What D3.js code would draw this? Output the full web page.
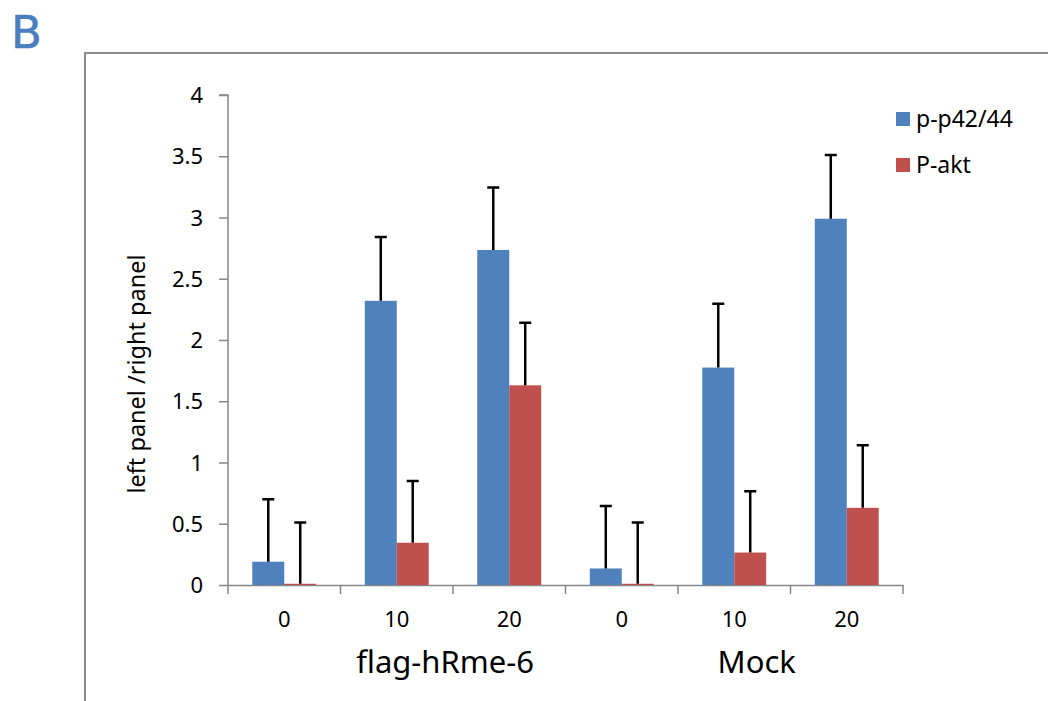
<!DOCTYPE html>
<html>
<head>
<meta charset="utf-8">
<script src="https://cdn.jsdelivr.net/npm/d3@7"></script>
<style>
  body { margin: 0; background: #fff; }
  text { font-family: "Noto Sans", "Open Sans", sans-serif; fill: #000; }
</style>
</head>
<body>
<div id="chart"></div>
<script>
const categories = ['0', '10', '20', '0', '10', '20'];
const seriesNames = ['p-p42/44', 'P-akt'];
const pp42 = [0.19, 2.32, 2.735, 0.135, 1.775, 2.99];
const pp42Err = [0.51, 0.52, 0.51, 0.51, 0.52, 0.52];
const pakt = [0.01, 0.345, 1.63, 0.01, 0.265, 0.63];
const paktErr = [0.5, 0.505, 0.51, 0.5, 0.5, 0.51];
const yTicks = [0, 0.5, 1, 1.5, 2, 2.5, 3, 3.5, 4];
const groupLabels = ['flag-hRme-6', 'Mock'];

const width = 1048, height = 701;
const colors = ['#4F81BD', '#C0504D'];
const margin = { left: 228, right: 903, top: 95, bottom: 585 };

const svg = d3.select('#chart').append('svg')
              .attr('width', width)
              .attr('height', height);

// panel letter + outer frame
svg.append('text')
   .attr('x', 11).attr('y', 48)
   .style('font-family', '"Comic Sans MS", "DejaVu Sans", sans-serif')
   .style('font-size', '45px')
   .style('fill', '#4A7EBF')
   .style('stroke', '#4A7EBF')
   .style('stroke-width', 0.6)
   .text('B');

svg.append('path')
   .attr('d', 'M85,' + (height + 5) + 'V53H' + (width + 5))
   .attr('fill', 'none')
   .attr('stroke', '#8c8c8c')
   .attr('stroke-width', 2);

const x0 = d3.scaleBand().domain(d3.range(categories.length)).range([margin.left, margin.right]);
const x1 = d3.scaleBand().domain(d3.range(seriesNames.length)).range([0, x0.bandwidth()])
             .paddingInner(0).paddingOuter(0.76);
const y = d3.scaleLinear().domain([0, 4]).range([margin.bottom, margin.top]);

const rows = categories.map((c, i) => ({
  i,
  vals: [
    { s: 0, v: pp42[i], e: pp42Err[i] },
    { s: 1, v: pakt[i], e: paktErr[i] }
  ]
}));

// y axis
const yAxis = svg.append('g')
                 .attr('transform', 'translate(' + margin.left + ',0)')
                 .call(d3.axisLeft(y).tickValues(yTicks).tickSize(9).tickPadding(16)
                         .tickFormat(d => d3.format('')(d)));
yAxis.selectAll('path, line').attr('stroke', '#868686').attr('stroke-width', 1.5);
yAxis.select('.domain').attr('d', 'M-9,' + y(4) + 'H0V' + y(0));
yAxis.selectAll('text').style('font-size', '22px').attr('dy', '0.35em');

// x axis
const xAxis = svg.append('g')
                 .attr('transform', 'translate(0,' + margin.bottom + ')')
                 .call(d3.axisBottom(x0).tickSize(0).tickFormat(i => categories[i]).tickPadding(34));
xAxis.select('.domain').attr('stroke', '#868686').attr('stroke-width', 1.5);
xAxis.selectAll('text').style('font-size', '22px').attr('dy', '0.35em');
xAxis.selectAll('.sep')
     .data(d3.range(categories.length + 1))
     .enter()
     .append('line')
     .attr('x1', i => margin.left + i * x0.step())
     .attr('x2', i => margin.left + i * x0.step())
     .attr('y1', 0).attr('y2', 9)
     .attr('stroke', '#868686')
     .attr('stroke-width', 1.5);

// bars
const group = svg.selectAll('.grp')
                 .data(rows)
                 .enter()
                 .append('g')
                 .attr('transform', d => 'translate(' + x0(d.i) + ',0)');

group.selectAll('rect')
     .data(d => d.vals)
     .enter()
     .append('rect')
     .attr('x', d => x1(d.s))
     .attr('width', x1.bandwidth())
     .attr('y', d => y(d.v))
     .attr('height', d => y(0) - y(d.v))
     .attr('fill', d => colors[d.s]);

// error bars (upper only)
const cap = 6;
group.selectAll('path.err')
     .data(d => d.vals)
     .enter()
     .append('path')
     .attr('class', 'err')
     .attr('d', d => {
       const cx = x1(d.s) + x1.bandwidth() / 2;
       return 'M' + cx + ',' + y(d.v) + 'V' + y(d.v + d.e) + 'M' + (cx - cap) + ',' + y(d.v + d.e) + 'H' + (cx + cap);
     })
     .attr('fill', 'none')
     .attr('stroke', '#000')
     .attr('stroke-width', 2.5);

// axis title
svg.append('text')
   .attr('transform', 'translate(145,374) rotate(-90)')
   .attr('text-anchor', 'middle')
   .style('font-size', '23.5px')
   .text('left panel /right panel');

// group labels under the axis
const groupX = [x0(1) + x0.step() * 0.93, x0(4) + x0.step() * 0.7];
svg.selectAll('.glabel')
   .data(groupLabels)
   .enter()
   .append('text')
   .attr('x', (d, i) => groupX[i])
   .attr('y', 673)
   .attr('text-anchor', 'middle')
   .style('font-size', '31px')
   .text(d => d);

// legend
const legend = svg.selectAll('.leg')
                  .data(seriesNames)
                  .enter()
                  .append('g')
                  .attr('transform', (d, i) => 'translate(896,' + (112 + i * 46) + ')');
legend.append('rect')
      .attr('width', 14).attr('height', 14)
      .attr('fill', (d, i) => colors[i]);
legend.append('text')
      .attr('x', 20).attr('y', 7).attr('dy', '0.35em')
      .style('font-size', '23px')
      .text(d => d);
</script>
</body>
</html>
